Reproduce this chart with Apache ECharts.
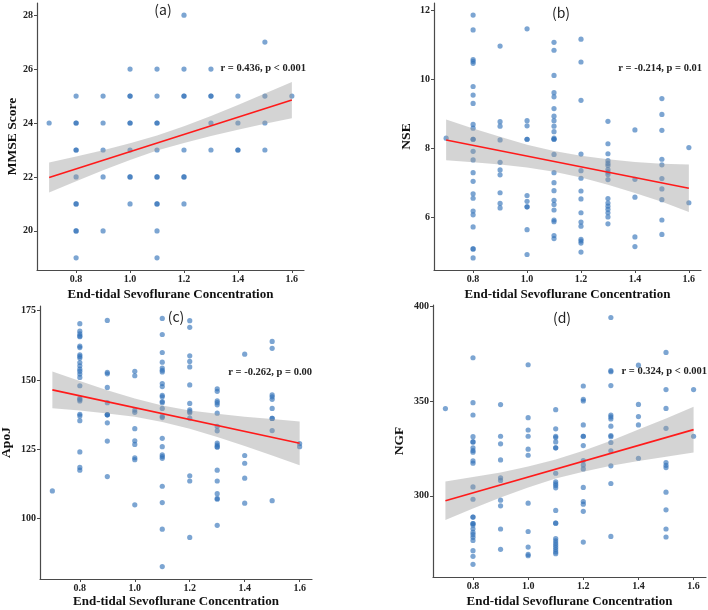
<!DOCTYPE html>
<html><head><meta charset="utf-8">
<script src="https://cdn.jsdelivr.net/npm/echarts@6/dist/echarts.min.js"></script>
<style>html,body{margin:0;padding:0;background:#fff}#c{width:708px;height:610px}</style>
</head><body><div id="c"></div>
<script>
// ---------- data ----------
const xCols = [0.7, 0.8, 0.9, 1.0, 1.1, 1.2, 1.3, 1.4, 1.5, 1.6];
const xTicks = [0.8, 1.0, 1.2, 1.4, 1.6];

// (a) MMSE score, values per x column (repeated values = overlapping, darker dots)
const mmseY = [
  [24],
  [25, 24, 24, 23, 23, 22, 21, 21, 20, 20, 19],
  [25, 24, 23, 22, 20],
  [26, 25, 25, 24, 24, 23, 22, 22, 21],
  [26, 25, 24, 24, 23, 22, 22, 21, 21, 20, 19],
  [28, 26, 25, 25, 23, 22, 22, 21],
  [26, 25, 25, 24, 23],
  [25, 24, 23, 23],
  [27, 25, 24, 23],
  [25]
];
// (b) NSE
const nseY = [
  [8.29],
  [11.86, 11.43, 10.57, 10.52, 10.46, 9.79, 9.54, 9.30, 8.69, 8.58, 8.26, 8.26, 7.91, 7.66, 7.29, 7.04, 6.68, 6.55, 6.18, 6.07, 5.72, 5.08, 5.08, 4.82],
  [10.96, 8.77, 8.64, 8.24, 7.59, 7.37, 7.23, 6.71, 6.40, 6.27],
  [11.46, 8.80, 8.65, 8.26, 8.26, 6.63, 6.46, 6.30, 6.30, 5.64, 4.92],
  [11.07, 10.84, 10.11, 9.61, 9.49, 9.15, 8.93, 8.80, 8.64, 8.48, 8.29, 8.26, 8.26, 7.82, 7.29, 7.00, 6.77, 6.49, 6.37, 6.21, 5.92, 5.87, 5.47, 5.38],
  [11.16, 10.50, 9.39, 7.83, 7.35, 7.13, 6.76, 6.53, 6.13, 5.86, 5.74, 5.36, 5.31, 5.25, 4.99],
  [8.78, 8.13, 7.84, 7.64, 7.56, 7.50, 7.38, 7.31, 7.24, 7.09, 6.54, 6.41, 6.32, 6.23, 6.13, 6.01, 5.81],
  [8.53, 7.10, 6.58, 5.43, 5.15],
  [9.44, 8.98, 8.52, 7.68, 7.52, 7.12, 6.82, 6.51, 5.92, 5.50],
  [8.02, 6.42]
];
// (c) ApoJ
const apojY = [
  [109.9],
  [170.3, 167.6, 166.6, 165.9, 165.6, 162.2, 161.7, 159.1, 158.5, 157.9, 156.3, 155.1, 153.9, 153.1, 152.1, 150.9, 147.9, 143.4, 142.9, 142.4, 137.6, 137.0, 135.3, 124.0, 118.4, 117.4],
  [171.5, 152.7, 152.2, 147.3, 141.8, 137.5, 137.4, 137.4, 134.5, 127.9, 115.1],
  [153.1, 151.5, 139.1, 138.3, 132.4, 128.0, 126.7, 121.9, 121.2, 104.9],
  [172.2, 166.4, 159.9, 156.4, 154.3, 153.5, 152.9, 148.7, 147.6, 144.4, 143.9, 142.2, 141.8, 139.7, 136.9, 136.4, 128.9, 125.9, 122.9, 122.3, 121.7, 111.6, 105.7, 96.1, 82.6],
  [171.4, 169.0, 158.7, 156.7, 154.7, 148.2, 141.5, 139.2, 138.6, 138.1, 136.2, 115.4, 113.5, 93.1],
  [146.8, 145.9, 142.4, 141.8, 141.0, 138.0, 133.2, 131.6, 127.2, 126.5, 125.8, 125.8, 117.4, 113.5, 108.9, 107.2, 106.9, 97.5],
  [159.3, 122.7, 119.9, 114.5, 105.5],
  [163.9, 161.4, 144.6, 143.9, 143.0, 139.7, 136.1, 136.1, 131.7, 106.4],
  [127.0, 125.9]
];
// (d) NGF
const ngfY = [
  [346.0],
  [372.8, 349.1, 342.6, 331.2, 328.4, 328.4, 325.3, 323.9, 323.0, 318.4, 317.2, 304.7, 298.2, 288.8, 288.8, 285.4, 285.4, 284.6, 282.6, 280.7, 279.5, 278.1, 276.5, 271.1, 268.1, 263.9],
  [348.1, 331.4, 327.4, 318.9, 309.5, 308.1, 297.7, 294.7, 282.5, 271.8],
  [369.1, 341.2, 334.7, 331.4, 324.6, 321.4, 296.1, 281.2, 273.0, 269.1, 268.4],
  [345.4, 335.3, 331.4, 330.7, 328.4, 325.3, 325.3, 311.9, 307.4, 306.3, 305.4, 304.2, 292.3, 285.6, 285.6, 277.5, 276.3, 275.1, 274.0, 272.8, 271.6, 270.4, 269.5],
  [357.9, 350.9, 350.0, 337.4, 331.4, 331.4, 326.5, 318.6, 316.3, 314.2, 304.4, 297.0, 295.6, 291.8, 275.6],
  [394.0, 366.0, 365.4, 358.1, 342.6, 341.6, 340.5, 336.7, 331.8, 331.2, 328.1, 323.7, 315.8, 306.5, 278.6],
  [368.9, 348.2, 341.8, 337.4, 319.8],
  [375.6, 356.0, 346.1, 335.6, 317.5, 316.1, 314.9, 301.9, 292.6, 282.5, 278.3],
  [356.0, 331.4]
];

// fitted lines (read at x = 0.7 and 1.6) and confidence bands (read at xCols)
const fitX = [0.7, 1.6];
const mmseFit = [21.98, 24.85];
const nseFit = [8.24, 6.84];
const apojFit = [146.4, 127.1];
const ngfFit = [297.4, 334.9];

const mmseUp = [22.54, 22.76, 22.99, 23.25, 23.54, 23.88, 24.26, 24.67, 25.09, 25.52];
const mmseLo = [21.42, 21.84, 22.25, 22.63, 22.98, 23.26, 23.52, 23.75, 23.97, 24.18];
const nseUp = [8.83, 8.57, 8.33, 8.10, 7.92, 7.78, 7.68, 7.60, 7.55, 7.53];
const nseLo = [7.65, 7.59, 7.53, 7.44, 7.32, 7.15, 6.94, 6.70, 6.45, 6.15];
const apojUp = [153.0, 149.6, 146.3, 143.3, 140.8, 139.0, 137.8, 136.7, 135.9, 135.0];
const apojLo = [139.8, 139.0, 137.9, 136.7, 134.8, 132.4, 129.4, 126.1, 122.7, 119.2];
const ngfUp = [307.5, 309.9, 312.3, 315.4, 319.1, 323.7, 329.0, 334.9, 340.8, 346.9];
const ngfLo = [287.3, 293.3, 299.1, 304.4, 309.1, 312.7, 315.8, 318.3, 320.6, 322.9];

const panelTitles = ['(a)', '(b)', '(c)', '(d)'];
const yNames = ['MMSE Score', 'NSE', 'ApoJ', 'NGF'];
const yTicks = [[20, 22, 24, 26, 28], [6, 8, 10, 12], [100, 125, 150, 175], [300, 350, 400]];
const annots = ['r = 0.436, p < 0.001', 'r = -0.214, p = 0.01', 'r = -0.262, p = 0.00', 'r = 0.324, p < 0.001'];
const xName = 'End-tidal Sevoflurane Concentration';

// ---------- layout ----------
const panels = [
  {y: mmseY, fit: mmseFit, up: mmseUp, lo: mmseLo, grid: {left: 37, top: 3, width: 267, height: 267}, ymin: 18.55, ymax: 28.45, yGap: 17, xGap: 18, title: [163, 10], ann: [306, 68]},
  {y: nseY, fit: nseFit, up: nseUp, lo: nseLo, grid: {left: 434, top: 3, width: 267, height: 267}, ymin: 4.47, ymax: 12.21, yGap: 20, xGap: 18, title: [561, 13], ann: [702, 68]},
  {y: apojY, fit: apojFit, up: apojUp, lo: apojLo, grid: {left: 40, top: 306, width: 272, height: 273}, ymin: 78.1, ymax: 176.7, yGap: 26, xGap: 16, title: [176, 317], ann: [312, 372]},
  {y: ngfY, fit: ngfFit, up: ngfUp, lo: ngfLo, grid: {left: 433, top: 305, width: 273, height: 272}, ymin: 257.2, ymax: 400.6, yGap: 26, xGap: 18, title: [562, 318], ann: [707, 371]}
];

const serif = '"Liberation Serif", "Times New Roman", serif';
const axisCol = '#4a4a4a';

const grids = [], xAxes = [], yAxes = [], series = [], graphics = [];
panels.forEach((p, i) => {
  grids.push(Object.assign({outerBoundsMode: 'none', containLabel: false}, p.grid));
  xAxes.push({
    type: 'value', gridIndex: i, min: 0.655, max: 1.645,
    name: xName, nameLocation: 'middle', nameGap: p.xGap,
    nameTextStyle: {fontFamily: serif, fontWeight: 'bold', fontSize: 13, color: '#111'},
    axisLine: {show: true, onZero: false, lineStyle: {color: axisCol, width: 1.2}},
    axisTick: {show: true, length: 3, lineStyle: {color: axisCol}, customValues: xTicks},
    axisLabel: {customValues: xTicks, margin: 4, fontFamily: serif, fontWeight: 'bold', fontSize: 10, color: '#222',
      formatter: v => v.toFixed(1)},
    splitLine: {show: false}
  });
  yAxes.push({
    type: 'value', gridIndex: i, min: p.ymin, max: p.ymax,
    name: yNames[i], nameLocation: 'middle', nameGap: p.yGap, nameRotate: 90,
    nameTextStyle: {fontFamily: serif, fontWeight: 'bold', fontSize: 13.5, color: '#111'},
    axisLine: {show: true, onZero: false, lineStyle: {color: axisCol, width: 1.2}},
    axisTick: {show: true, length: 3, lineStyle: {color: axisCol}, customValues: yTicks[i]},
    axisLabel: {customValues: yTicks[i], margin: 4, fontFamily: serif, fontWeight: 'bold', fontSize: 10, color: '#222',
      formatter: v => String(Math.round(v))},
    splitLine: {show: false}
  });
  const pts = [];
  p.y.forEach((col, k) => col.forEach(v => pts.push([xCols[k], v])));
  series.push({
    type: 'scatter', xAxisIndex: i, yAxisIndex: i, data: pts, symbolSize: 5.2, z: 2,
    itemStyle: {color: '#3272b8', opacity: 0.64}, silent: true
  });
  const up = p.up, lo = p.lo;
  series.push({
    type: 'custom', xAxisIndex: i, yAxisIndex: i, z: 3, silent: true,
    data: [[xCols[0], up[0]]],
    renderItem: (params, api) => {
      const poly = [];
      xCols.forEach((x, k) => poly.push(api.coord([x, up[k]])));
      for (let k = xCols.length - 1; k >= 0; k--) poly.push(api.coord([xCols[k], lo[k]]));
      return {type: 'polygon', shape: {points: poly}, style: {fill: 'rgba(153,153,153,0.42)'}};
    }
  });
  series.push({
    type: 'line', xAxisIndex: i, yAxisIndex: i, z: 4, silent: true, symbol: 'none',
    data: fitX.map((x, k) => [x, p.fit[k]]),
    lineStyle: {color: '#ff1a1a', width: 1.6}
  });
  graphics.push({
    type: 'text', x: p.title[0], y: p.title[1],
    style: {text: panelTitles[i], textAlign: 'center', textVerticalAlign: 'middle',
      font: '14px "Noto Sans CJK SC", "Noto Sans", sans-serif', fill: '#222'}
  });
  graphics.push({
    type: 'text', x: p.ann[0], y: p.ann[1],
    style: {text: annots[i], textAlign: 'right', textVerticalAlign: 'middle',
      font: 'bold 10.5px ' + serif, fill: '#222'}
  });
});

const chart = echarts.init(document.getElementById('c'), null, {renderer: 'canvas'});
chart.setOption({
  backgroundColor: '#fff', animation: false,
  grid: grids, xAxis: xAxes, yAxis: yAxes, series: series, graphic: graphics
});
</script></body></html>
